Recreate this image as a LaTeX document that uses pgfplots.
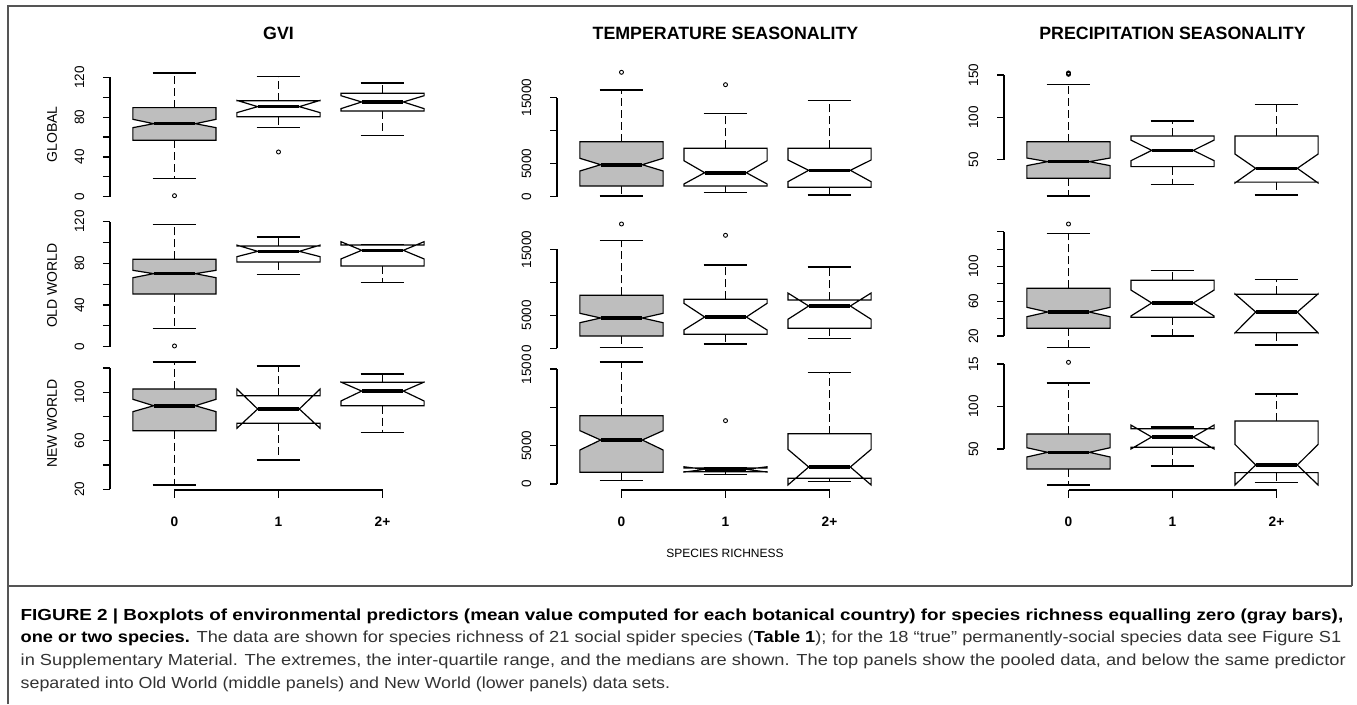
\documentclass[border=0pt]{standalone}
\usepackage{fontspec}
\setmainfont{Liberation Sans}
\usepackage{graphicx}
\usepackage{pgfplots}
\pgfplotsset{compat=1.18}
\definecolor{rgray}{HTML}{BEBEBE}
\definecolor{framec}{HTML}{555555}
\definecolor{capgray}{HTML}{333333}

\pgfplotsset{
  whisk/.style={black, line width=1.2pt, dash pattern=on 8pt off 4pt},
  stap/.style={black, line width=1.3pt},
  boxs/.style={draw=black, line width=1.2pt, line join=miter},
  medl/.style={black, line width=3.6pt},
  outl/.style={only marks, mark=o, mark size=2pt, mark options={black, line width=0.9pt, solid}},
  panel/.style={scale only axis, width=337pt, height=133pt, anchor=south west,
    xmin=0.38, xmax=3.62, axis lines*=left, axis line style={draw=none},
    tick align=outside, major tick length=7pt, tick style={black, line width=1.2pt},
    xtick=\empty, clip=false, scaled y ticks=false,
    /pgf/number format/assume math mode=true,
    tick label style={font=\fontsize{13.5}{13.5}\selectfont},
    yticklabel style={rotate=90, anchor=south, inner sep=0pt},
    yticklabel shift=18.5pt},
  bottomrow/.style={xtick={1,2,3}, xticklabels={0,1,2+},
    xticklabel style={font=\bfseries\fontsize{13.7}{13.7}\selectfont, anchor=north, inner sep=0pt},
    xticklabel shift=20pt}
}

% #1 x, #2 lower whisker, #3 Q1, #4 notch low, #5 median, #6 notch high, #7 Q3, #8 upper whisker, #9 fill
\newcommand{\nbox}[9]{%
  \pgfmathsetmacro\bxL{#1-0.4}\pgfmathsetmacro\bxR{#1+0.4}%
  \pgfmathsetmacro\bxNL{#1-0.2}\pgfmathsetmacro\bxNR{#1+0.2}%
  \pgfmathsetmacro\bxSL{#1-0.21}\pgfmathsetmacro\bxSR{#1+0.21}%
  \addplot[whisk] coordinates {(#1,#7) (#1,#8)};%
  \addplot[whisk] coordinates {(#1,#3) (#1,#2)};%
  \addplot[stap] coordinates {(\bxSL,#8) (\bxSR,#8)};%
  \addplot[stap] coordinates {(\bxSL,#2) (\bxSR,#2)};%
  \addplot[boxs, fill=#9] coordinates {(\bxL,#3) (\bxR,#3) (\bxR,#4) (\bxNR,#5) (\bxR,#6) (\bxR,#7) (\bxL,#7) (\bxL,#6) (\bxNL,#5) (\bxL,#4)} -- cycle;%
  \addplot[medl] coordinates {(\bxNL,#5) (\bxNR,#5)};%
}
% bottom x axis with ticks, R style
\newcommand{\xaxisR}[1]{%
  \draw[black, line width=1.2pt] (axis cs:1,#1) -- (axis cs:3,#1);
  \draw[black, line width=1.2pt] (axis cs:1,#1) -- ([yshift=-7.5pt]axis cs:1,#1);
  \draw[black, line width=1.2pt] (axis cs:2,#1) -- ([yshift=-7.5pt]axis cs:2,#1);
  \draw[black, line width=1.2pt] (axis cs:3,#1) -- ([yshift=-7.5pt]axis cs:3,#1);
}

\newcommand{\capfont}{\fontsize{16}{16}\selectfont\color{capgray}}
\newcommand{\capbf}[1]{{\color{black}\bfseries #1}}
\newcommand{\capline}[2]{\resizebox{#1pt}{\height}{\capfont #2}}

\begin{document}%
\begin{tikzpicture}
\useasboundingbox (0pt,0pt) rectangle (1357pt,-704pt);

% ---------------- Row 1 : GLOBAL ----------------
\begin{axis}[panel, at={(110pt,-201pt)}, ymin=-4.22, ymax=129.3,
  ytick={0,20,...,120}, yticklabels={0,,40,,80,,120}]
\draw[black, line width=1.2pt] (axis cs:0.38,0) -- (axis cs:0.38,120);
\nbox{1}{18.6}{56.7}{69.4}{73.4}{77.8}{89.5}{124.3}{rgray}
\nbox{2}{69.4}{80.4}{84.5}{90.5}{96.8}{96.5}{120.6}{white}
\nbox{3}{61.3}{86.1}{88.5}{95.2}{101.5}{103.9}{114.3}{white}
\addplot[outl] coordinates {(1,1.1) (2,45)};
\end{axis}

\begin{axis}[panel, at={(557pt,-201pt)}, ymin=-651.5, ymax=19500,
  ytick={0,5000,10000,15000}, yticklabels={0,5000,,15000}]
\draw[black, line width=1.2pt] (axis cs:0.38,0) -- (axis cs:0.38,15000);
\nbox{1}{106}{1621}{3894}{4848}{5818}{8333}{16170}{rgray}
\nbox{2}{606}{1621}{1924}{3636}{5455}{7333}{12576}{white}
\nbox{3}{258}{1424}{2273}{4000}{5560}{7333}{14545}{white}
\addplot[outl] coordinates {(1,18850) (2,16970)};
\end{axis}

\begin{axis}[panel, at={(1004pt,-201pt)}, ymin=1.24, ymax=158.26,
  ytick={50,100,150}, yticklabels={50,100,150}]
\draw[black, line width=1.2pt] (axis cs:0.38,50) -- (axis cs:0.38,150);
\nbox{1}{7.1}{28}{43}{47.7}{52}{71.3}{138.6}{rgray}
\nbox{2}{21}{41.8}{48.8}{61}{73.2}{78}{95.7}{white}
\nbox{3}{8.3}{23.5}{22.5}{39.8}{56.7}{78}{115.4}{white}
\addplot[outl] coordinates {(1,150.8) (1,151.6) (1,152.4)};
\end{axis}

% ---------------- Row 2 : OLD WORLD ----------------
\begin{axis}[panel, at={(110pt,-352pt)}, ymin=-5.09, ymax=122.55,
  ytick={0,20,...,120}, yticklabels={0,,40,,80,,120}]
\draw[black, line width=1.2pt] (axis cs:0.38,0) -- (axis cs:0.38,120);
\nbox{1}{17.7}{50.6}{66.2}{70.1}{73.3}{83.9}{117.5}{rgray}
\nbox{2}{69.1}{81.3}{86.4}{91.5}{97.5}{96.6}{105.3}{white}
\nbox{3}{61.4}{77.4}{84.2}{92.5}{100.8}{97.6}{97.6}{white}
\addplot[outl] coordinates {(1,0.7)};
\end{axis}

\begin{axis}[panel, at={(557pt,-352pt)}, ymin=-560.6, ymax=19591,
  ytick={0,5000,10000,15000}, yticklabels={0,5000,,15000}]
\draw[black, line width=1.2pt] (axis cs:0.38,0) -- (axis cs:0.38,15000);
\nbox{1}{150}{1864}{3879}{4591}{5303}{8030}{16364}{rgray}
\nbox{2}{652}{2121}{2773}{4742}{6818}{7424}{12621}{white}
\nbox{3}{1515}{3030}{4394}{6409}{8379}{7318}{12318}{white}
\addplot[outl] coordinates {(1,18833) (2,17121)};
\end{axis}

\begin{axis}[panel, at={(1004pt,-352pt)}, ymin=1.59, ymax=154.64,
  ytick={20,40,...,140}, yticklabels={20,,60,,100,,}]
\draw[black, line width=1.2pt] (axis cs:0.38,20) -- (axis cs:0.38,140);
\nbox{1}{7.0}{28.9}{42.2}{47.6}{53}{74.9}{137.7}{rgray}
\nbox{2}{20}{41.5}{43}{58}{72.9}{84.1}{95.6}{white}
\nbox{3}{9.6}{23.8}{23.5}{47.6}{68.5}{68}{85.2}{white}
\addplot[outl] coordinates {(1,148.9)};
\end{axis}

% ---------------- Row 3 : NEW WORLD ----------------
\begin{axis}[panel, bottomrow, at={(110pt,-490pt)}, ymin=19.42, ymax=129.07,
  ytick={20,40,...,120}, yticklabels={20,,60,,100,}]
\draw[black, line width=1.2pt] (axis cs:0.38,20) -- (axis cs:0.38,120);
\xaxisR{19.42}
\nbox{1}{23.5}{68.3}{84.0}{88.9}{94.2}{102.7}{124.9}{rgray}
\nbox{2}{44.2}{74.4}{70.3}{86.2}{102.7}{97.2}{121.6}{white}
\nbox{3}{67.0}{88.9}{92.8}{101.0}{108.4}{108.2}{115.1}{white}
\end{axis}

\begin{axis}[panel, bottomrow, at={(557pt,-490pt)}, ymin=-782.6, ymax=16565,
  ytick={0,5000,10000,15000}, yticklabels={0,5000,,1500}]
\draw[black, line width=1.2pt] (axis cs:0.38,0) -- (axis cs:0.38,15000);
\xaxisR{-782.6}
\nbox{1}{478}{1522}{4435}{5739}{6957}{8913}{15913}{rgray}
\nbox{2}{1217}{1609}{1550}{1913}{2250}{2087}{2087}{white}
\nbox{3}{304}{739}{-130}{2217}{4522}{6565}{14565}{white}
\addplot[outl] coordinates {(2,8261)};
\end{axis}

\begin{axis}[panel, bottomrow, at={(1004pt,-490pt)}, ymin=1.76, ymax=158.24,
  ytick={50,100,150}, yticklabels={50,100,15}]
\draw[black, line width=1.2pt] (axis cs:0.38,50) -- (axis cs:0.38,150);
\xaxisR{1.76}
\nbox{1}{7.6}{26.5}{40.6}{46.1}{51.5}{67.6}{127.6}{rgray}
\nbox{2}{30}{52}{50}{64.1}{78.2}{73.9}{75.9}{white}
\nbox{3}{10.4}{22.2}{7.6}{31.2}{55.5}{82.9}{114.7}{white}
\addplot[outl] coordinates {(1,152)};
\end{axis}

% ---------------- titles and labels ----------------
\begin{scope}[every node/.style={font=\bfseries\fontsize{17.8}{18}\selectfont, inner sep=0pt}]
\node at (278.5pt,-33pt) {GVI};
\node at (725.5pt,-33pt) {TEMPERATURE SEASONALITY};
\node at (1172.5pt,-33pt) {PRECIPITATION SEASONALITY};
\end{scope}
\begin{scope}[every node/.style={font=\fontsize{14}{14}\selectfont, inner sep=0pt, rotate=90}]
\node at (52pt,-134.5pt) {GLOBAL};
\node at (52pt,-285.5pt) {OLD WORLD};
\node at (52pt,-423.5pt) {NEW WORLD};
\end{scope}
\node[font=\fontsize{12}{12}\selectfont, inner sep=0pt] at (725pt,-553pt) {SPECIES RICHNESS};

% ---------------- frame ----------------
\draw[framec, line width=1.8pt] (8pt,-704pt) -- (8pt,-6pt) -- (1352pt,-6pt) -- (1352pt,-586pt);
\draw[framec, line width=1.5pt] (8pt,-586pt) -- (1352pt,-586pt);

% ---------------- caption ----------------
\node[anchor=base west, inner sep=0pt] at (20.5pt,-620pt) {\capline{1322.5}{\capbf{FIGURE 2 | Boxplots of environmental predictors (mean value computed for each botanical country) for species richness equalling zero (gray bars),}}};
\node[anchor=base west, inner sep=0pt] at (20.5pt,-642.7pt) {\capline{1320.5}{\capbf{one or two species.} The data are shown for species richness of 21 social spider species (\capbf{Table 1}); for the 18 “true” permanently-social species data see Figure S1}};
\node[anchor=base west, inner sep=0pt] at (20.5pt,-665.3pt) {\capline{1325}{in Supplementary Material. The extremes, the inter-quartile range, and the medians are shown. The top panels show the pooled data, and below the same predictor}};
\node[anchor=base west, inner sep=0pt] at (20.5pt,-688pt) {\capline{649.5}{separated into Old World (middle panels) and New World (lower panels) data sets.}};
\end{tikzpicture}%
\end{document}
